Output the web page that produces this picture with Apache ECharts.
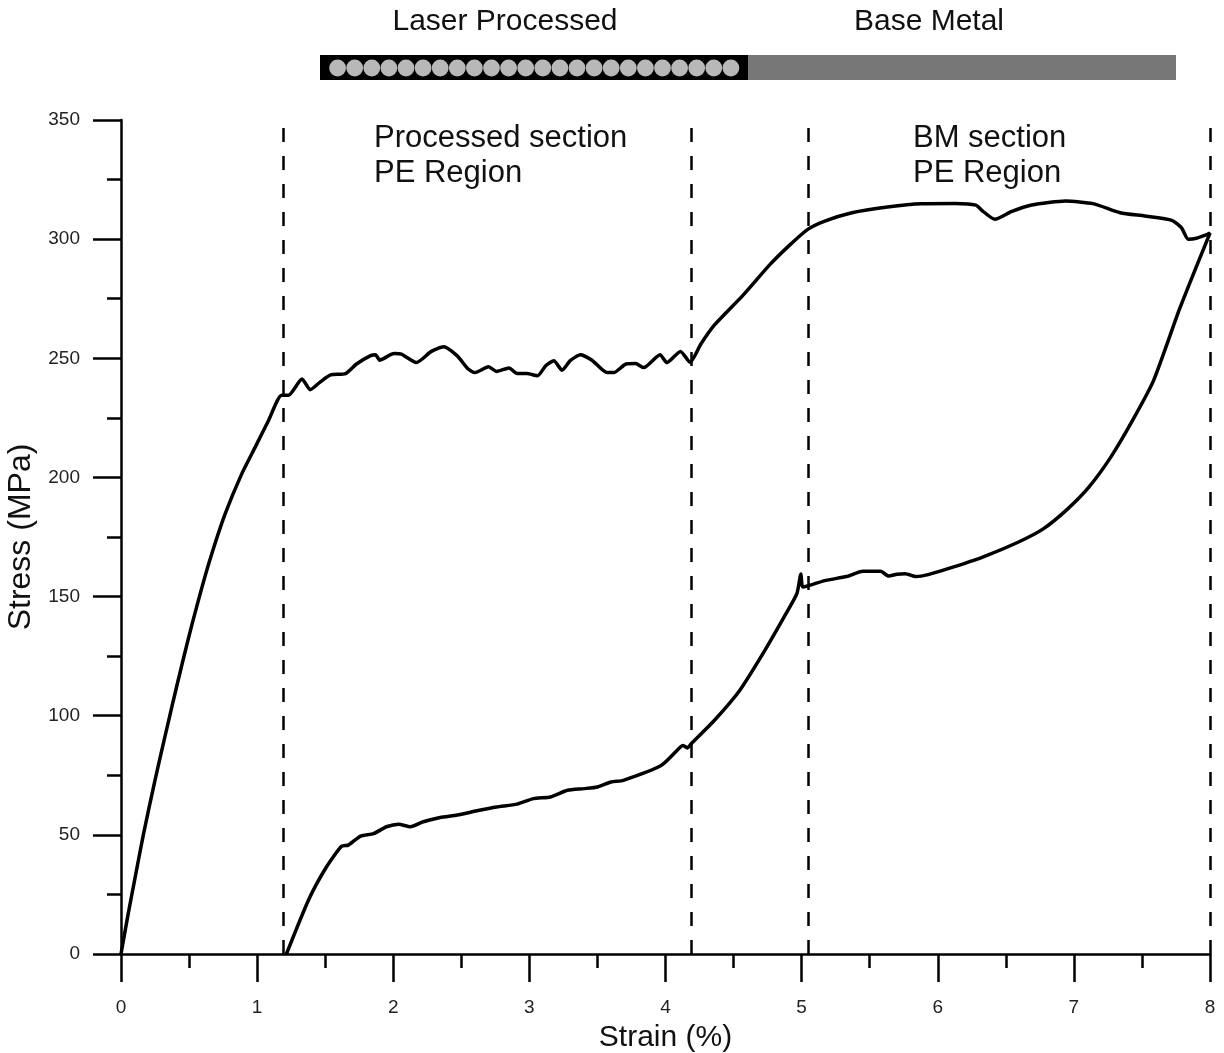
<!DOCTYPE html>
<html>
<head>
<meta charset="utf-8">
<script src="https://cdn.jsdelivr.net/npm/echarts@6/dist/echarts.min.js"></script>
<style>
html,body{margin:0;padding:0;background:#fff;}
#chart{width:1224px;height:1053px;}
</style>
</head>
<body>
<div id="chart"></div>
<script>
// Loading branch (upper curve), strain % and stress MPa
const loadingStrain = [0,0.05,0.1,0.164,0.25,0.33,0.385,0.45,0.52,0.6,0.667,0.765,0.887,0.985,1.083,1.18,1.23,1.33,1.39,1.46,1.54,1.65,1.73,1.83,1.87,1.90,1.98,2.01,2.06,2.17,2.28,2.37,2.47,2.55,2.60,2.70,2.76,2.85,2.91,2.98,3.06,3.12,3.18,3.24,3.30,3.375,3.46,3.57,3.62,3.71,3.78,3.84,3.96,4.01,4.11,4.18,4.26,4.36,4.565,4.77,4.92,5.045,5.17,5.37,5.63,5.88,6.13,6.28,6.33,6.42,6.54,6.69,6.94,7.14,7.34,7.52,7.72,7.79,7.84,7.90,7.98,8.0];
const loadingStress = [0,16,31,50,73,93,106.5,122,138,155,168,184.7,201.5,212.6,223.8,234.5,234.5,241.3,236.8,239.9,243,243.6,247.6,251,251.5,249.2,251.5,252,251.7,248.2,252.9,254.8,251,245.5,244,246.4,244.5,245.9,243.6,243.6,242.7,246.9,249,245,249,251.5,249.2,244,244,247.6,247.8,246.1,251.5,248.2,252.9,248.3,256,264,276.2,289.5,297.9,304.1,307.6,311.1,313.5,314.9,315,314.3,311.8,308.3,311.5,314.3,316,314.9,311.1,309.7,307.9,304.8,300,300.4,302,302.5];
// Unloading branch (lower curve), from 8 % back to zero stress
const unloadingStrain = [8.0,7.90,7.775,7.585,7.43,7.27,7.11,6.955,6.775,6.59,6.33,6.07,5.93,5.84,5.76,5.70,5.64,5.58,5.45,5.33,5.17,5.01,4.995,4.965,4.885,4.73,4.545,4.36,4.19,4.16,4.13,4.11,3.97,3.69,3.60,3.50,3.40,3.28,3.155,3.03,2.91,2.76,2.615,2.47,2.345,2.22,2.125,2.04,1.95,1.855,1.76,1.67,1.62,1.51,1.377,1.215];
const unloadingStress = [302.5,288.5,270.5,240.6,223.8,208.4,195.9,186.8,178.4,172.8,166.6,161.6,159.2,158.4,159.6,159.4,158.6,160.6,160.6,158.4,156.7,154,159.5,151.2,142.8,127.4,110.6,98.1,88.3,86.5,87.5,86.9,79.2,72.9,72.2,70.1,69.4,68.7,65.9,65.2,62.9,61.7,60.1,58.3,57.3,55.5,53.4,54.5,53.4,50.5,49.5,45.7,45.2,36.6,22.6,0];
// Region boundaries (dashed lines), strain %
const boundaries = [1.19, 4.19, 5.05, 8.0];
const xTicks = {min:0, max:8, step:1};
const yTicks = {min:0, max:350, step:50};

const curve = [];
loadingStrain.forEach((s,i)=>curve.push([s, loadingStress[i]]));
unloadingStrain.forEach((s,i)=>curve.push([s, unloadingStress[i]]));

const FONT = '"Liberation Sans", Arial, sans-serif';
const chart = echarts.init(document.getElementById('chart'), null, {renderer:'canvas'});

const graphics = [];
graphics.push({type:'rect', shape:{x:320,y:55,width:428,height:25}, style:{fill:'#000'}, silent:true});
graphics.push({type:'rect', shape:{x:748,y:55,width:428,height:25}, style:{fill:'#777'}, silent:true});
for (let i=0;i<24;i++){
  graphics.push({type:'circle', shape:{cx:337.6+i*17.1, cy:68, r:8.4}, style:{fill:'#b8b8b8'}, silent:true});
}
function txt(t,x,y,align,size){
  return {type:'text', x:x, y:y, silent:true,
    style:{text:t, fontSize:size, fontFamily:FONT, fill:'#111', align:align, verticalAlign:'middle'}};
}
graphics.push(txt('Laser Processed',505,22,'center',30));
graphics.push(txt('Base Metal',929,22,'center',30));
graphics.push(txt('Processed section',374,138,'left',31));
graphics.push(txt('PE Region',374,173,'left',31));
graphics.push(txt('BM section',913,138,'left',31));
graphics.push(txt('PE Region',913,173,'left',31));

const axisCommon = {
  type:'value',
  axisLine:{show:true, onZero:false, lineStyle:{color:'#000', width:2.5}},
  axisTick:{show:true, length:28, lineStyle:{color:'#000', width:2.5}},
  minorTick:{show:true, splitNumber:2, length:14, lineStyle:{color:'#000', width:2.5}},
  splitLine:{show:false},
  minorSplitLine:{show:false},
  nameLocation:'middle'
};

chart.setOption({
  animation:false,
  backgroundColor:'#fff',
  grid:{left:121, right:14, top:120, bottom:99, containLabel:false, outerBoundsMode:'none'},
  xAxis: Object.assign({}, axisCommon, {
    min:xTicks.min, max:xTicks.max, interval:xTicks.step,
    name:'Strain (%)', nameGap:69,
    nameTextStyle:{fontSize:30, fontFamily:FONT, color:'#111'},
    axisLabel:{margin:44, fontSize:19, fontFamily:FONT, color:'#222'}
  }),
  yAxis: Object.assign({}, axisCommon, {
    min:yTicks.min, max:yTicks.max, interval:yTicks.step,
    name:'Stress (MPa)', nameGap:74,
    nameTextStyle:{fontSize:32, fontFamily:FONT, color:'#111'},
    axisLabel:{margin:41, fontSize:19, fontFamily:FONT, color:'#222'}
  }),
  graphic: graphics,
  series:[{
    type:'line',
    data: curve,
    showSymbol:false,
    symbol:'none',
    smooth:0.2,
    lineStyle:{color:'#000', width:3.5},
    z:3,
    markLine:{
      silent:true,
      symbol:['none','none'],
      label:{show:false},
      lineStyle:{color:'#000', width:2.5, type:[14,14]},
      data: boundaries.map(b=>({xAxis:b}))
    }
  }]
});
</script>
</body>
</html>
